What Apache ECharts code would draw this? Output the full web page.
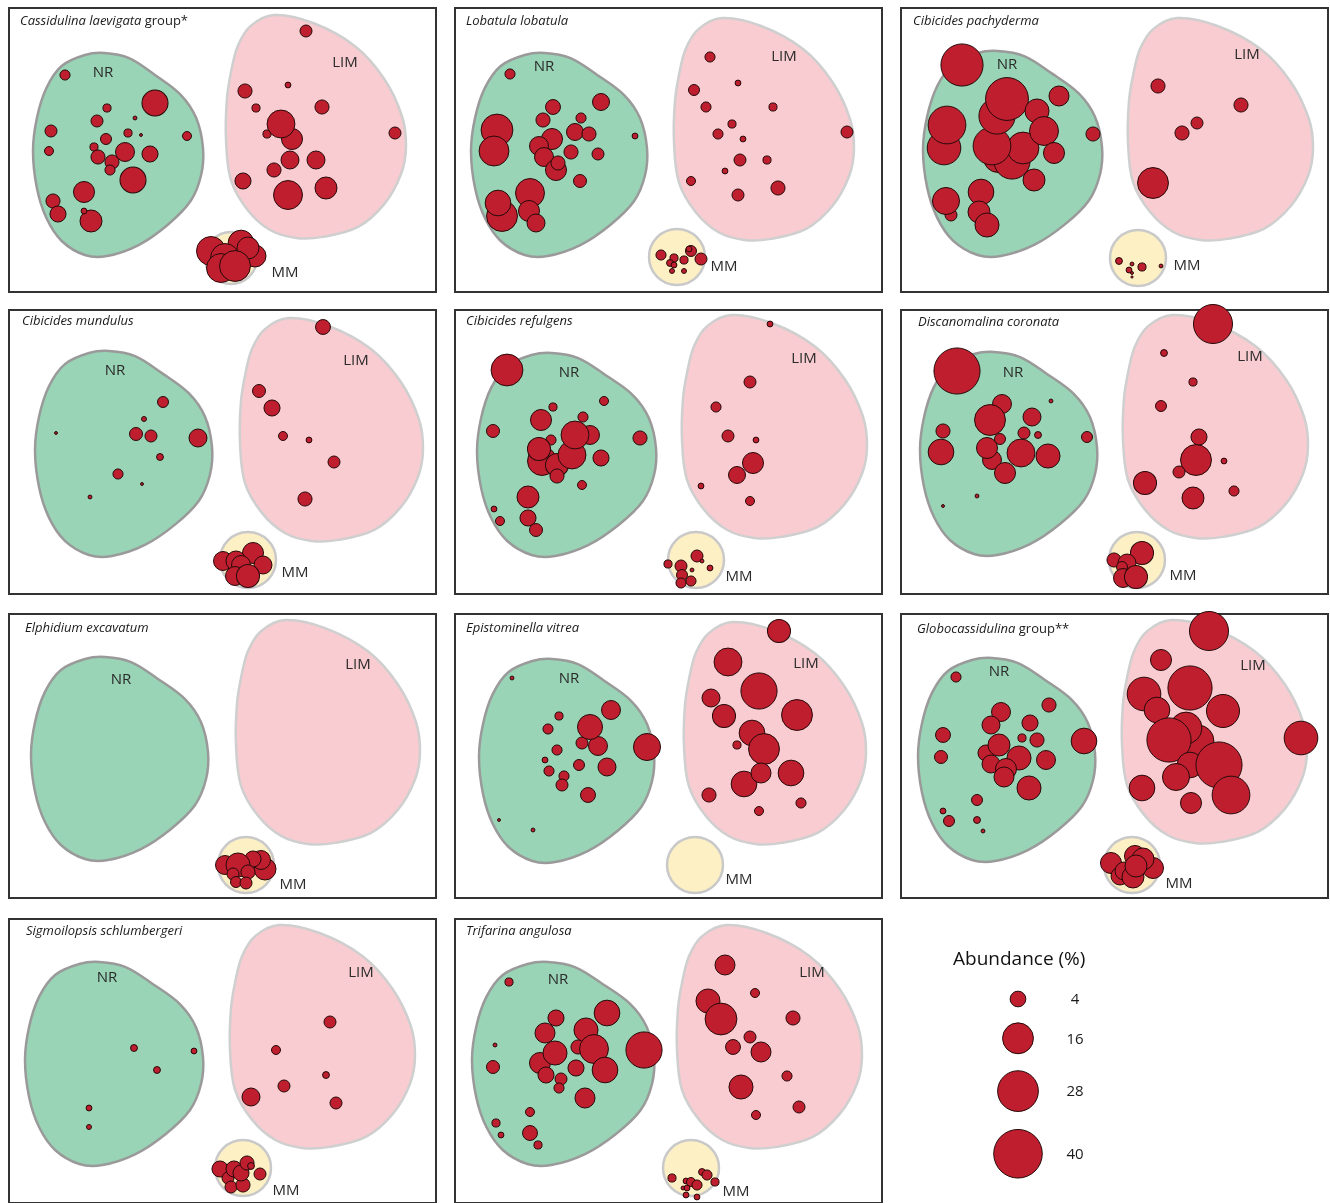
<!DOCTYPE html>
<html><head><meta charset="utf-8">
<script src="https://cdn.jsdelivr.net/npm/echarts@6/dist/echarts.min.js"></script>
<style>html,body{margin:0;padding:0;background:#fff}#c{width:1330px;height:1203px}</style>
</head><body><div id="c"></div>
<script>
// ---------- data: [x, y, abundance %] in each panel's ordination space ----------
const cassidulina = [
  [57,67,1.6],[147,95,11.3],[99,100,1.0],[127,110,0.2],[89,113,2.3],[43,123,2.3],[120,125,1.0],[133,127,0.1],[179,128,1.25],[98,131,1.9],[41,143,1.25],[86,139,1.0],[117,144,5.9],[142,146,4.2],[90,149,3.2],[104,154,3.2],[102,162,1.6],[125,172,11.3],[76,184,7.3],[45,193,3.2],[50,206,4.2],[83,213,8.0],[76,203,0.5],
  [298,23,2.3],[237,83,3.2],[280,77,0.5],[248,100,1.0],[314,99,3.2],[387,125,2.3],[259,126,1.0],[284,131,7.3],[273,116,13],[282,152,5.3],[308,152,5.3],[266,162,3.2],[235,173,4.2],[318,180,8],[280,187,14],
  [203,243,14],[233,235,11],[247,248,8],[240,240,8],[217,250,14],[213,260,14],[227,258,16]
];
const lobatula = [
  [56,66,1.6],[147,94,4.7],[99,99,3.6],[127,110,1.6],[89,112,3.2],[43,122,17],[121,124,4.7],[135,126,3.2],[181,128,0.5],[98,131,7.3],[40,143,15],[85,138,5.9],[117,144,3.2],[144,146,2.3],[90,149,5.9],[102,162,7.3],[104,155,3.2],[126,173,2.7],[76,185,14],[48,208,16],[44,195,11],[75,203,7.3],[82,215,5.3],
  [256,49,1.6],[284,75,0.5],[240,82,1.9],[252,99,1.6],[319,99,1.0],[278,116,1.0],[393,124,2.3],[264,126,1.6],[289,131,0.5],[286,152,2.3],[313,152,1.0],[271,163,0.5],[237,173,1.25],[324,180,3.2],[284,187,2.3],
  [207,247,1.6],[220,250,1.0],[216,255,0.7],[230,252,1.0],[237,243,1.9],[235,241,0.5],[247,251,2.3],[220,257,0.5],[218,263,0.35],[230,263,0.35]
];
const pachyderma = [
  [62,57,30],[159,88,6.6],[193,126,3.2],[44,140,19],[47,117,24],[98,150,14],[112,153,22],[123,140,17],[92,138,24],[97,108,22],[107,91,31],[137,103,9.6],[144,123,14],[154,145,7.3],[134,172,8],[51,207,2.3],[46,193,12.2],[81,184,11],[79,204,8],[87,217,9.6],
  [258,78,3.2],[341,97,3.2],[297,115,2.3],[282,125,3.2],[253,175,16],
  [219,253,0.7],[232,256,0.2],[229,262,0.5],[242,259,1.0],[261,258,0.2],[232,265,0.1],[232,269,0.05]
];
const mundulus = [
  [155,94,1.9],[136,111,0.35],[48,125,0.1],[128,126,2.7],[143,128,2.3],[190,130,5.3],[152,149,0.7],[110,166,1.6],[134,176,0.1],[82,189,0.2],
  [315,19,3.6],[251,83,2.7],[264,100,4.2],[275,128,1.25],[301,132,0.5],[326,154,2.3],[297,191,3.2],
  [215,253,5.9],[245,245,7.3],[228,253,6.6],[255,257,5.3],[233,257,5.9],[227,268,5.9],[240,268,8.8]
];
const refulgens = [
  [53,62,17],[150,93,1.25],[99,99,1.0],[87,112,7.3],[129,109,1.6],[39,123,2.7],[136,127,5.9],[97,132,1.6],[186,130,3.2],[88,153,14],[85,141,8.8],[103,157,8.8],[118,147,13],[121,127,13],[147,150,4.2],[103,168,3.2],[128,177,1.25],[74,189,8],[40,201,0.5],[46,213,1.25],[74,210,4.2],[82,222,2.7],
  [316,16,0.5],[296,74,2.3],[262,99,1.6],[274,128,2.3],[302,132,0.5],[283,167,4.7],[299,155,7.3],[247,178,0.5],[296,193,1.25],
  [214,256,1.0],[243,248,2.3],[248,253,0.2],[227,258,2.3],[238,262,0.2],[256,260,0.5],[228,267,1.9],[227,275,1.6],[237,273,1.6]
];
const coronata = [
  [57,63,36],[102,96,5.9],[90,112,16],[132,109,5.3],[151,93,0.2],[43,123,3.2],[124,125,2.3],[138,127,0.7],[187,129,1.9],[41,144,11],[92,152,5.9],[87,140,7.3],[100,131,1.9],[121,145,13],[148,148,9.6],[105,165,7.3],[77,188,0.2],[43,198,0.1],
  [313,16,25.7],[264,45,0.7],[293,74,1.0],[261,98,1.9],[299,129,4.2],[296,152,16],[324,153,0.5],[279,164,2.3],[245,175,8.8],[334,183,1.6],[293,190,8],
  [214,252,3.2],[242,245,8.8],[227,255,5.3],[222,259,1.9],[223,270,5.9],[236,269,8.8]
];
const excavatum = [
  [217,251,5.9],[257,255,8],[253,246,5.9],[245,245,4.2],[230,251,9.6],[225,260,2.3],[240,258,3.2],[228,268,1.9],[238,269,2.3]
];
const vitrea = [
  [58,64,0.2],[157,96,5.9],[105,102,1.0],[94,115,1.6],[144,132,5.9],[128,129,2.3],[136,113,10.4],[193,133,12.2],[103,136,1.6],[91,146,0.5],[125,151,1.9],[153,153,5.3],[95,157,1.6],[110,162,1.6],[108,171,2.3],[134,181,3.6],[45,206,0.1],[79,216,0.2],
  [325,17,8.8],[274,48,13],[305,77,22],[257,84,5.3],[343,101,16],[270,102,8.8],[298,119,11],[283,131,1.0],[310,135,16],[337,159,11],[290,170,11],[307,159,6.6],[255,181,3.2],[347,189,1.6],[305,197,1.25]
];
const globocassidulina = [
  [56,63,1.6],[149,91,3.2],[101,98,5.9],[91,111,5.3],[130,109,4.2],[43,121,3.6],[122,124,1.0],[137,126,3.2],[184,127,11],[86,139,4.2],[99,131,8],[41,143,2.7],[119,144,9.6],[146,146,5.9],[91,150,5.3],[106,155,7.3],[104,163,6.6],[129,174,9.6],[77,186,1.9],[43,197,0.5],[49,207,1.9],[77,206,0.7],[83,217,0.2],
  [309,17,25.7],[261,46,7.3],[244,80,19],[257,96,11],[290,74,33],[323,97,18.3],[298,127,17],[286,114,17],[269,126,33],[401,124,19],[290,151,11],[276,163,12.2],[319,151,36],[242,174,11],[331,181,24],[291,189,7.3],
  [211,249,7.3],[220,262,5.3],[224,257,5.3],[233,263,8],[253,254,7.3],[235,242,7.3],[243,245,8],[236,252,8]
];
const schlumbergeri = [
  [126,129,0.7],[186,132,0.5],[149,151,0.7],[81,189,0.5],[81,208,0.35],
  [322,103,2.3],[268,131,1.25],[318,156,0.7],[276,167,2.3],[243,178,5.3],[328,184,2.3],
  [212,250,4.2],[220,259,2.3],[223,268,2.3],[226,250,4.2],[235,266,3.2],[233,254,4.2],[239,244,3.2],[243,247,0.7],[252,255,2.3]
];
const angulosa = [
  [55,63,1.0],[153,94,11],[102,99,4.2],[91,114,6.6],[41,126,0.2],[190,131,22],[124,128,3.2],[132,111,9.6],[140,130,14],[86,144,7.3],[92,156,4.2],[101,134,9.6],[39,148,2.7],[122,149,4.2],[151,151,11],[107,160,2.3],[105,169,1.6],[131,179,6.6],[76,193,1.25],[42,204,1.0],[47,216,0.5],[76,214,3.6],[84,226,1.0],
  [271,46,6.6],[301,74,1.25],[254,82,9.6],[267,100,17],[339,99,3.2],[296,118,2.3],[279,128,3.6],[307,133,6.6],[333,157,1.6],[287,168,9.6],[345,188,2.3],[302,196,1.25],
  [218,259,1.0],[248,253,0.7],[253,256,1.6],[261,263,1.0],[232,262,0.5],[237,263,1.25],[243,266,1.6],[229,269,0.2],[233,269,0.5],[232,276,0.5],[243,278,0.5]
];
const speciesNames = ['Cassidulina laevigata','Lobatula lobatula','Cibicides pachyderma','Cibicides mundulus','Cibicides refulgens','Discanomalina coronata','Elphidium excavatum','Epistominella vitrea','Globocassidulina','Sigmoilopsis schlumbergeri','Trifarina angulosa'];
const speciesSuffix = [' group*','','','','','','','',' group**','',''];
const speciesData = [cassidulina,lobatula,pachyderma,mundulus,refulgens,coronata,excavatum,vitrea,globocassidulina,schlumbergeri,angulosa];
const regionNames = ['NR','LIM','MM'];
const legendValues = [4,16,28,40];
const legendTitle = 'Abundance (%)';

// ---------- region outlines (normalised) ----------
const NR_SHAPE = [[0,0.483],[0.023,0.32],[0.079,0.172],[0.169,0.064],[0.305,0.01],[0.418,0],[0.565,0.025],[0.717,0.108],[0.87,0.207],[0.96,0.32],[1.0,0.468],[0.989,0.601],[0.927,0.729],[0.791,0.847],[0.621,0.946],[0.435,1.0],[0.305,0.995],[0.169,0.926],[0.079,0.813],[0.023,0.665]];
const LIM_SHAPE = [[0.027,0.26],[0.065,0.14],[0.136,0.05],[0.266,0],[0.484,0.036],[0.717,0.14],[0.88,0.288],[0.978,0.455],[1.0,0.59],[0.973,0.712],[0.88,0.847],[0.734,0.95],[0.538,0.995],[0.391,1.0],[0.245,0.964],[0.12,0.874],[0.027,0.739],[0,0.559],[0.005,0.378]];

// ---------- layout ----------
const colLeft = [9,455,901], rowTop = [8,310,614,919], rowYOff = [0,2,0,0];
const PW = 427, PH = 284;
const nrBox = [[25,45,195,248],[17,45,193,248],[23,43,202,248],[27,43,204,248],[23,45,202,248],[20,44,197,247],[23,43,200,246],[25,45,200,248],[18,44,195,247],[17,43,195,246],[18,43,200,246]];
const limBox = [[218,7,398,230],[220,10,400,232],[228,10,413,232],[232,10,415,233],[228,7,413,230],[223,7,408,230],[228,6,412,230],[230,8,412,230],[222,6,407,229],[222,6,407,229],[223,6,408,229]];
const mmCirc = [[223,250,26],[223,249,28],[238,250,28],[240,252,28],[242,252,28],[237,252,28],[238,251,28],[241,251,28],[232,251,28],[235,249,28],[237,249,28]];
const nrLab = [[95,65],[90,59],[107,57],[107,63],[115,65],[113,65],[113,66],[115,65],[99,58],[99,59],[104,61]];
const limLab = [[337,55],[330,49],[347,47],[348,53],[350,51],[350,49],[350,51],[352,50],[353,52],[353,54],[358,54]];
const mmLab = [[277,265],[270,259],[287,258],[287,265],[285,269],[283,268],[285,271],[285,266],[279,270],[278,272],[282,273]];
const titlePos = [[12,15],[12,15],[13,15],[14,15],[12,15],[18,16],[17,16],[12,16],[17,17],[18,14],[12,14]];

const FONT = '"Open Sans", "Noto Sans", sans-serif';
const RED = '#BE1E2D';
const regionStyle = [
  {fill:'#98D4B5', stroke:'#9a9a9a'},
  {fill:'#F9CCD1', stroke:'#cfcfcf'},
  {fill:'#FCF0C4', stroke:'#c9c9c9'}
];
const sizeOf = v => 7.6*Math.sqrt(v) + 0.5;

function renderRegion(params, api) {
  const x0 = api.value(0), y0 = api.value(1), x1 = api.value(2), y1 = api.value(3);
  const kind = api.value(4), lx = api.value(5), ly = api.value(6);
  const st = regionStyle[kind];
  let el;
  if (kind === 2) {
    const c = api.coord([(x0+x1)/2, (y0+y1)/2]);
    const e = api.coord([x1, (y0+y1)/2]);
    el = {type:'circle', shape:{cx:c[0], cy:c[1], r:Math.abs(e[0]-c[0])}, style:{fill:st.fill, stroke:st.stroke, lineWidth:2.5}};
  } else {
    const shp = kind === 0 ? NR_SHAPE : LIM_SHAPE;
    const pts = shp.map(p => api.coord([x0 + p[0]*(x1-x0), y0 + p[1]*(y1-y0)]));
    el = {type:'polygon', shape:{points:pts, smooth:0.35}, style:{fill:st.fill, stroke:st.stroke, lineWidth:2.5}};
  }
  const t = api.coord([lx, ly]);
  return {type:'group', children:[el, {type:'text', x:t[0], y:t[1], style:{text:regionNames[kind], fill:'#2a2a2a', font:'15px ' + FONT, align:'center', verticalAlign:'middle'}}]};
}

const grids = [], xAxes = [], yAxes = [], series = [], titles = [];
speciesNames.forEach((name, i) => {
  const col = i % 3, row = Math.floor(i / 3);
  grids.push({left:colLeft[col], top:rowTop[row], width:PW, height:PH, show:true, borderColor:'#333', borderWidth:2, backgroundColor:'transparent', containLabel:false});
  xAxes.push({type:'value', gridIndex:i, min:1, max:1+PW, show:false});
  yAxes.push({type:'value', gridIndex:i, min:rowYOff[row], max:rowYOff[row]+PH, inverse:true, show:false});
  const nb = nrBox[i], lb = limBox[i], mc = mmCirc[i];
  series.push({
    type:'custom', xAxisIndex:i, yAxisIndex:i, clip:false, silent:true, z:1,
    renderItem: renderRegion,
    data:[
      [nb[0],nb[1],nb[2],nb[3],0,nrLab[i][0],nrLab[i][1]],
      [lb[0],lb[1],lb[2],lb[3],1,limLab[i][0],limLab[i][1]],
      [mc[0]-mc[2],mc[1]-mc[2],mc[0]+mc[2],mc[1]+mc[2],2,mmLab[i][0],mmLab[i][1]]
    ]
  });
  series.push({
    type:'scatter', xAxisIndex:i, yAxisIndex:i, clip:false, silent:true, z:3,
    symbol:'circle', symbolSize: v => sizeOf(v[2]),
    itemStyle:{color:RED, borderColor:'#260a0a', borderWidth:1, opacity:1},
    data: speciesData[i]
  });
  const originX = colLeft[col] - 1, originY = rowTop[row] - rowYOff[row];
  titles.push({
    text:'{i|' + name + '}' + (speciesSuffix[i] ? '{n|' + speciesSuffix[i] + '}' : ''),
    left: originX + titlePos[i][0], top: originY + titlePos[i][1] - 8, padding:0,
    textStyle:{fontSize:13, fontFamily:FONT, color:'#1a1a1a', fontWeight:'normal',
      rich:{i:{fontStyle:'italic', fontSize:13, fontFamily:FONT, color:'#1a1a1a'}, n:{fontStyle:'normal', fontSize:13, fontFamily:FONT, color:'#1a1a1a'}}}
  });
});

// legend panel
const L = speciesNames.length;
grids.push({left:900, top:915, width:429, height:288, show:false});
xAxes.push({type:'value', gridIndex:L, min:0, max:429, show:false});
yAxes.push({type:'value', gridIndex:L, min:0, max:288, inverse:true, show:false});
const legendData = [];
let yPrev = 84, rPrev = 0;
legendValues.forEach((v, k) => {
  const r = sizeOf(v)/2;
  const y = k === 0 ? yPrev : yPrev + rPrev + r + 15 + k;
  legendData.push([118, y, v]);
  yPrev = y; rPrev = r;
});
series.push({
  type:'scatter', xAxisIndex:L, yAxisIndex:L, clip:false, silent:true,
  symbolSize: v => sizeOf(v[2]),
  itemStyle:{color:RED, borderColor:'#260a0a', borderWidth:1, opacity:1},
  label:{show:true, position:'inside', offset:[57,1], formatter: p => p.value[2], color:'#1a1a1a', fontSize:15, fontFamily:FONT},
  data: legendData
});
titles.push({text:legendTitle, left:953, top:950, padding:0, textStyle:{fontSize:19, fontFamily:FONT, color:'#111', fontWeight:'normal'}});

const chart = echarts.init(document.getElementById('c'), null, {renderer:'canvas'});
chart.setOption({animation:false, backgroundColor:'#fff', title:titles, grid:grids, xAxis:xAxes, yAxis:yAxes, series:series});
</script></body></html>
